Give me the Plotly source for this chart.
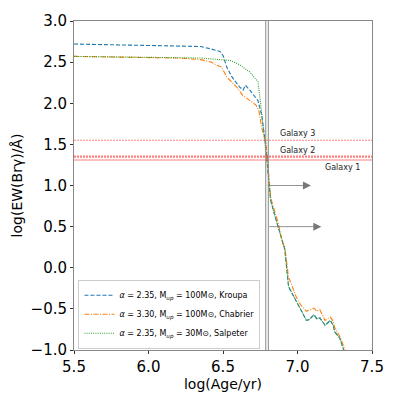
import plotly.graph_objects as go

# Kroupa (blue dashed)
kroupa_x = [5.5, 5.8, 6.0, 6.2, 6.35, 6.42, 6.48, 6.5, 6.525, 6.56, 6.61, 6.635, 6.65, 6.68, 6.715, 6.735,
            6.76, 6.78, 6.79, 6.8, 6.82, 6.85, 6.87, 6.9, 6.915, 6.94, 6.97, 6.99, 7.02, 7.06, 7.08, 7.11,
            7.13, 7.15, 7.185, 7.22, 7.24, 7.25, 7.285, 7.31]
kroupa_y = [2.72, 2.71, 2.705, 2.70, 2.69, 2.66, 2.63, 2.58, 2.44, 2.32, 2.20, 2.16, 2.22, 2.16, 2.08, 2.03,
            1.85, 1.62, 1.45, 1.2, 0.82, 0.62, 0.5, 0.3, 0.22, -0.23, -0.33, -0.41, -0.5, -0.64, -0.63, -0.57,
            -0.62, -0.61, -0.70, -0.64, -0.70, -0.78, -0.86, -1.0]

# Chabrier (orange dash-dot)
chabrier_x = [5.5, 5.8, 6.0, 6.2, 6.35, 6.42, 6.45, 6.49, 6.525, 6.56, 6.6, 6.63, 6.68, 6.72, 6.74, 6.76,
              6.79, 6.805, 6.82, 6.87, 6.9, 6.915, 6.94, 6.96, 6.99, 7.02, 7.06, 7.11, 7.13, 7.15, 7.185,
              7.22, 7.24, 7.25, 7.285, 7.32]
chabrier_y = [2.57, 2.565, 2.56, 2.55, 2.53, 2.50, 2.47, 2.44, 2.32, 2.25, 2.18, 2.10, 2.03, 1.98, 1.92, 1.70,
              1.5, 1.2, 0.85, 0.55, 0.3, 0.25, -0.12, -0.2, -0.35, -0.45, -0.53, -0.49, -0.53, -0.51, -0.64,
              -0.60, -0.65, -0.73, -0.84, -1.0]

# Salpeter (green dotted)
salpeter_x = [5.5, 5.8, 6.0, 6.2, 6.35, 6.55, 6.61, 6.68, 6.735, 6.755, 6.77, 6.78, 6.8, 6.82, 6.85, 6.87,
              6.9, 6.915, 6.94, 6.97, 6.99, 7.02, 7.06, 7.08, 7.11, 7.13, 7.15, 7.185, 7.22, 7.24, 7.25,
              7.285, 7.31]
salpeter_y = [2.57, 2.565, 2.56, 2.55, 2.55, 2.52, 2.47, 2.38, 2.26, 1.96, 1.67, 1.53, 1.2, 0.82, 0.62, 0.5,
              0.3, 0.22, -0.23, -0.33, -0.41, -0.5, -0.64, -0.63, -0.57, -0.62, -0.61, -0.70, -0.64, -0.70,
              -0.78, -0.86, -1.0]

series_names = ["<i>α</i> = 2.35, M<sub><i>up</i></sub> = 100M⊙, Kroupa",
                "<i>α</i> = 3.30, M<sub><i>up</i></sub> = 100M⊙, Chabrier",
                "<i>α</i> = 2.35, M<sub><i>up</i></sub> = 30M⊙, Salpeter"]

galaxy_names = ["Galaxy 1", "Galaxy 2", "Galaxy 3"]
galaxy_ew = [1.31, 1.35, 1.55]
galaxy_label_x = [7.3, 7.0, 7.0]
galaxy_label_y = [1.22, 1.43, 1.63]

vlines_x = [6.787, 6.804]
arrow_start_x = [6.79, 6.80]
arrow_end_x = [7.09, 7.16]
arrow_y = [1.0, 0.5]

fig = go.Figure()
styles = [("#1f77b4", "4px,2px"), ("#ff7f0e", "5px,1.5px,1px,1.5px"), ("#2ca02c", "1px,1.2px")]
for (xs, ys), name, (c, d) in zip([(kroupa_x, kroupa_y), (chabrier_x, chabrier_y), (salpeter_x, salpeter_y)],
                                  series_names, styles):
    fig.add_trace(go.Scatter(x=xs, y=ys, mode="lines", name=name,
                             line=dict(color=c, dash=d, width=1.1)))

gal_dash = ["solid", "2px,1px", "2px,1px"]
gal_width = [1.2, 2.2, 1.0]
for v, d, w in zip(galaxy_ew, gal_dash, gal_width):
    fig.add_shape(type="line", xref="paper", x0=0, x1=1, yref="y", y0=v, y1=v,
                  line=dict(color="rgba(255,0,0,0.5)", width=w, dash=d))
for v in vlines_x:
    fig.add_shape(type="line", xref="x", x0=v, x1=v, yref="paper", y0=0, y1=1,
                  line=dict(color="#888888", width=1))
for n, lx, ly in zip(galaxy_names, galaxy_label_x, galaxy_label_y):
    fig.add_annotation(x=lx, y=ly, text=n, showarrow=False,
                       font=dict(size=8, color="#222222", family="DejaVu Sans"))
for sx, ex, ay in zip(arrow_start_x, arrow_end_x, arrow_y):
    fig.add_annotation(x=ex, y=ay, ax=sx, ay=ay, xref="x", yref="y", axref="x", ayref="y",
                       text="", showarrow=True, arrowhead=2, arrowsize=2, arrowwidth=0.8,
                       arrowcolor="#777777")

fig.update_layout(
    width=399, height=399,
    margin=dict(l=74, r=27, t=21, b=49, autoexpand=False),
    plot_bgcolor="white", paper_bgcolor="white",
    font=dict(family="DejaVu Sans", color="black"),
    showlegend=True,
    legend=dict(x=0.015, y=0.004, xanchor="left", yanchor="bottom",
                bgcolor="white", bordercolor="#cccccc", borderwidth=1,
                font=dict(size=8, family="DejaVu Sans"), tracegroupgap=0,
                itemwidth=30),
)
fig.update_xaxes(range=[5.5, 7.5], tickvals=[5.5, 6.0, 6.5, 7.0, 7.5],
                 ticktext=["5.5", "6.0", "6.5", "7.0", "7.5"], automargin=False,
                 showgrid=False, zeroline=False, showline=True, linecolor="#888888",
                 linewidth=1, mirror=True, ticks="outside", ticklen=3, tickcolor="#333333",
                 tickfont=dict(size=15), title=dict(text="log(Age/yr)", font=dict(size=14), standoff=4))
fig.update_yaxes(range=[-1.0, 3.0], tickvals=[-1.0, -0.5, 0.0, 0.5, 1.0, 1.5, 2.0, 2.5, 3.0],
                 ticktext=["−1.0", "−0.5", "0.0", "0.5", "1.0", "1.5", "2.0", "2.5", "3.0"], automargin=False,
                 showgrid=False, zeroline=False, showline=True, linecolor="#888888",
                 linewidth=1, mirror=True, ticks="outside", ticklen=3, tickcolor="#333333",
                 tickfont=dict(size=15), title=dict(text="log(EW(Brγ)/Å)", font=dict(size=14), standoff=4))

fig.write_html("out.html", config={"displayModeBar": False},
               post_script="document.body.style.margin='0';document.body.style.overflow='hidden';")
